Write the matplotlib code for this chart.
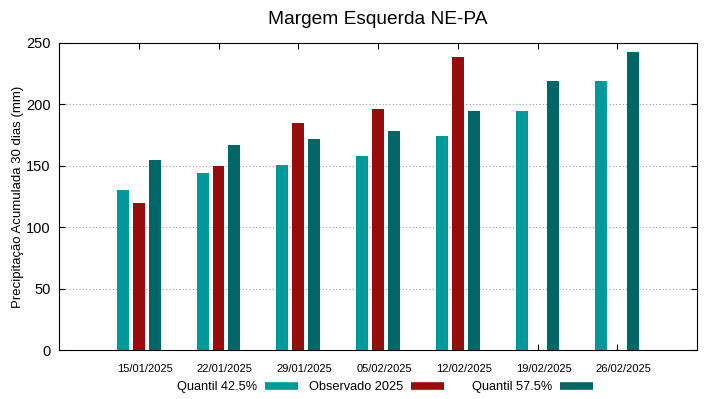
import numpy as np
import matplotlib
matplotlib.use("Agg")
import matplotlib.pyplot as plt
from matplotlib.lines import Line2D

plt.rcParams["font.family"] = ["Liberation Sans", "DejaVu Sans"]

dates = ["15/01/2025", "22/01/2025", "29/01/2025", "05/02/2025",
         "12/02/2025", "19/02/2025", "26/02/2025"]
q425 = [130, 144, 151, 158, 174, 195, 219]
obs2025 = [120, 150, 185, 196, 239, np.nan, np.nan]
q575 = [155, 167, 172, 178, 195, 219, 243]

c_q425 = "#009999"
c_obs = "#990c0c"
c_q575 = "#006666"

fig = plt.figure(figsize=(7.19, 3.99), dpi=100)
ax = fig.add_axes([59 / 719, 1 - 350 / 399, 638 / 719, 307 / 399])

x = np.arange(1, len(dates) + 1)
w = 0.15
ax.bar(x - 0.2, q425, w, color=c_q425, zorder=3)
ax.bar(x, obs2025, w, color=c_obs, zorder=3)
ax.bar(x + 0.2, q575, w, color=c_q575, zorder=3)

ax.set_xlim(0, 8)
ax.set_ylim(0, 250)
# tick marks at group centre, labels nudged right like the gnuplot original
ax.set_xticks(x)
ax.set_xticklabels([])
ax.set_xticks(x + 0.075, minor=True)
ax.set_xticklabels(dates, minor=True, fontsize=8)
ax.tick_params(axis="x", which="major", direction="in", top=True, length=4)
ax.tick_params(axis="x", which="minor", length=0, pad=10)
ax.set_yticks(range(0, 251, 50))
ax.tick_params(axis="y", labelsize=10.5, direction="in", right=True, length=4, pad=6)
for yv in range(50, 250, 50):
    ax.axhline(yv, color="#999999", lw=0.8, ls=(0, (1, 2)), zorder=1)
for s in ax.spines.values():
    s.set_linewidth(0.8)

ax.set_ylabel("Precipitação Acumulada 30 dias (mm)", fontsize=9.5, labelpad=1.5)
ax.set_title("Margem Esquerda NE-PA", fontsize=13.8, pad=14)

# gnuplot-style key: text first, then sample
labels = ["Quantil 42.5%", "Observado 2025", "Quantil 57.5%"]
colors = [c_q425, c_obs, c_q575]
starts = [177, 309, 472]
for lbl, c, xs in zip(labels, colors, starts):
    h = Line2D([], [], color=c, lw=5.5, solid_capstyle="butt")
    fig.legend([h], [lbl], loc="center left", bbox_to_anchor=(xs / 719, 1 - 387 / 399),
               frameon=False, markerfirst=False, fontsize=9.2, handlelength=2.6,
               handletextpad=0.6, borderpad=0, borderaxespad=0)

fig.savefig("out.png", dpi=100)
